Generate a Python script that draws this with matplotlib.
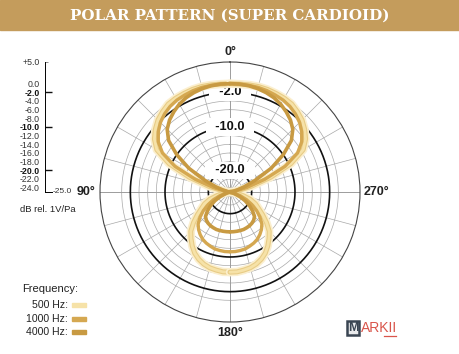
import numpy as np
import matplotlib
matplotlib.use('Agg')
import matplotlib.pyplot as plt
from matplotlib.patches import Rectangle
from matplotlib.lines import Line2D

# polar data (dB), 0..180 deg, pattern is symmetric
angles = list(range(0, 185, 5))
db_500 = [0, 0, 0.1, 0.2, 0.2, 0.1, 0, -0.2, -0.8, -1.5, -2.5, -3.7, -5.5, -9.5, -15, -20,
          -23, -24.5, -25, -25, -24, -22, -20, -18.5, -17.4, -15.8, -14, -12.2, -11, -9.8,
          -8.7, -7.9, -7.3, -6.9, -6.7, -6.5, -6.5]
db_1000 = [0, 0, 0, 0, -0.1, -0.3, -0.5, -0.9, -1.5, -2.3, -3.4, -4.8, -7, -11, -16.5, -21,
           -23.5, -25, -25, -25, -25, -24, -22.5, -20.8, -19.2, -17.5, -16, -14.6, -13.7, -13,
           -12.4, -12, -11.7, -11.4, -11.3, -11.2, -11.2]
db_4000 = [0, 0, -0.1, -0.3, -0.6, -1.0, -1.6, -2.4, -3.3, -4.5, -6.5, -10, -14, -18.5, -21.5,
           -23.5, -24.5, -25, -25, -25, -25, -25, -24, -22.5, -21, -19.5, -18.2, -17, -16.5,
           -16.2, -16, -15.9, -15.8, -15.8, -15.8, -15.8, -15.8]

freq_labels = ['500 Hz:', '1000 Hz:', '4000 Hz:']
freq_colors = ['#f6e2a8', '#d5a851', '#c89a42']

scale_ticks = [5, 0, -2, -4, -6, -8, -10, -12, -14, -16, -18, -20, -22, -24]
bold_ticks = [-2, -10, -20]
ring_levels = [0, -2, -4, -6, -8, -10, -12, -14, -16, -18, -20, -22, -24]

fig = plt.figure(figsize=(4.6, 3.54), dpi=100)
W, H = 460, 354

# header banner
fig.patches.append(Rectangle((0, 1 - 30 / H), 1, 30 / H, transform=fig.transFigure,
                             color='#c49c5c', zorder=0))
fig.text(0.5, 1 - 15.5 / H, 'POLAR PATTERN (SUPER CARDIOID)', ha='center', va='center',
         color='white', fontsize=10.9, fontweight='bold', family='DejaVu Serif')

# polar axes, centre (230,192), radius 130 px
cx, cy, R = 230, 192, 130
ax = fig.add_axes([(cx - R) / W, (H - cy - R) / H, 2 * R / W, 2 * R / H], projection='polar')
ax.set_theta_zero_location('N')
ax.set_theta_direction(1)
ax.set_rlim(-25, 5)
ax.set_thetagrids(range(0, 360, 15), labels=[])
ax.set_rgrids([-24], labels=[''])
ax.grid(True, axis='x', color='#a8a8a8', lw=0.5)
ax.yaxis.grid(False)
ax.spines['polar'].set_color('#444444')
ax.spines['polar'].set_linewidth(0.8)

tt = np.linspace(0, 2 * np.pi, 361)
for lev in ring_levels:
    if lev in bold_ticks:
        ax.plot(tt, np.full_like(tt, lev), color='#111111', lw=1.2, zorder=2)
    else:
        ax.plot(tt, np.full_like(tt, lev), color='#a8a8a8', lw=0.5, zorder=1)
for a in (0, 90):
    ax.plot([np.deg2rad(a), np.deg2rad(a + 180)], [5, 5], color='#777777', lw=0.6, zorder=1)

for lev in bold_ticks:
    ax.text(0, lev, '  %.1f  ' % lev, ha='center', va='center', fontsize=9.3, fontweight='bold',
            family='Liberation Sans', color='#111111', zorder=4,
            bbox=dict(boxstyle='square,pad=0.2', fc='white', ec='none'))

for a, lab, off in [(0, '0°', 7.3), (90, '90°', 8.2), (180, '180°', 7.6), (270, '270°', 8.9)]:
    ax.text(np.deg2rad(a), off, lab, ha='center', va='center', fontsize=9, fontweight='bold',
            family='Liberation Sans', color='#222222', clip_on=False)

th = np.deg2rad(angles)
for sgn in (1, -1):
    ax.plot(sgn * th, db_500, color='#fbefcf', lw=6, zorder=5, solid_capstyle='round')
    ax.plot(sgn * th, db_500, color='#e8cc86', lw=3.6, zorder=5, solid_capstyle='round')
    ax.plot(sgn * th, db_500, color=freq_colors[0], lw=2, zorder=5, solid_capstyle='round')
    ax.plot(sgn * th, db_1000, color=freq_colors[1], lw=2.4, zorder=6, solid_capstyle='round')
    ax.plot(sgn * th, db_4000, color=freq_colors[2], lw=2.6, zorder=7, solid_capstyle='round')
ax.set_rlim(-25, 5)

# left dB scale
sax = fig.add_axes([45 / W, (H - cy) / H, 7 / W, R / H])
sax.set_ylim(-25, 5)
sax.set_xlim(0, 1)
sax.patch.set_visible(False)
for s in ('top', 'right'):
    sax.spines[s].set_visible(False)
sax.spines['left'].set_linewidth(0.7)
sax.spines['bottom'].set_linewidth(0.7)
sax.set_xticks([])
sax.set_yticks(scale_ticks)
sax.set_yticklabels(['+5.0' if v > 0 else '%.1f' % v for v in scale_ticks])
sax.tick_params(axis='y', length=0, pad=4, labelsize=6.3)
for lbl, v in zip(sax.get_yticklabels(), scale_ticks):
    lbl.set_family('Liberation Sans')
    if v in bold_ticks:
        lbl.set_fontweight('bold')
        lbl.set_color('#111111')
    else:
        lbl.set_color('#333333')
sax.hlines(bold_ticks, 0, 1, color='#111111', lw=1.0, clip_on=False)
sax.hlines([5], 0, 0.5, color='#777777', lw=0.6, clip_on=False)
sax.text(1.15, -25, '-25.0', ha='left', va='center', fontsize=6, family='Liberation Sans',
         color='#333333', clip_on=False)
fig.text(20 / W, 1 - 210 / H, 'dB rel. 1V/Pa', ha='left', va='center', fontsize=6.8,
         family='Liberation Sans', color='#222222')

# frequency key
fig.text(22 / W, 1 - 289 / H, 'Frequency:', ha='left', va='center', fontsize=8,
         family='Liberation Sans', color='#222222')
for i, (lab, col) in enumerate(zip(freq_labels, freq_colors)):
    y = 305 + i * 13.5
    fig.text(68 / W, 1 - y / H, lab, ha='right', va='center', fontsize=7.6,
             family='Liberation Sans', color='#222222')
    fig.patches.append(Rectangle((72 / W, 1 - (y + 2) / H), 14 / W, 4 / H,
                                 transform=fig.transFigure, color=col))

# logo
fig.patches.append(Rectangle((347 / W, 1 - 335 / H), 12 / W, 14 / H, transform=fig.transFigure,
                             fc='#e9eaec', ec='#3a4552', lw=1.8))
fig.text(353 / W, 1 - 328 / H, 'M', ha='center', va='center', fontsize=9, fontweight='bold',
         family='Liberation Sans', color='#3a4552')
fig.text(361 / W, 1 - 328 / H, 'ARKII', ha='left', va='center', fontsize=10,
         family='Liberation Sans', color='#d9554b')
fig.lines.append(Line2D([384 / W, 396 / W], [1 - 336 / H, 1 - 336 / H],
                        transform=fig.transFigure, color='#d9554b', lw=0.9))

fig.savefig('out.png', dpi=100)
